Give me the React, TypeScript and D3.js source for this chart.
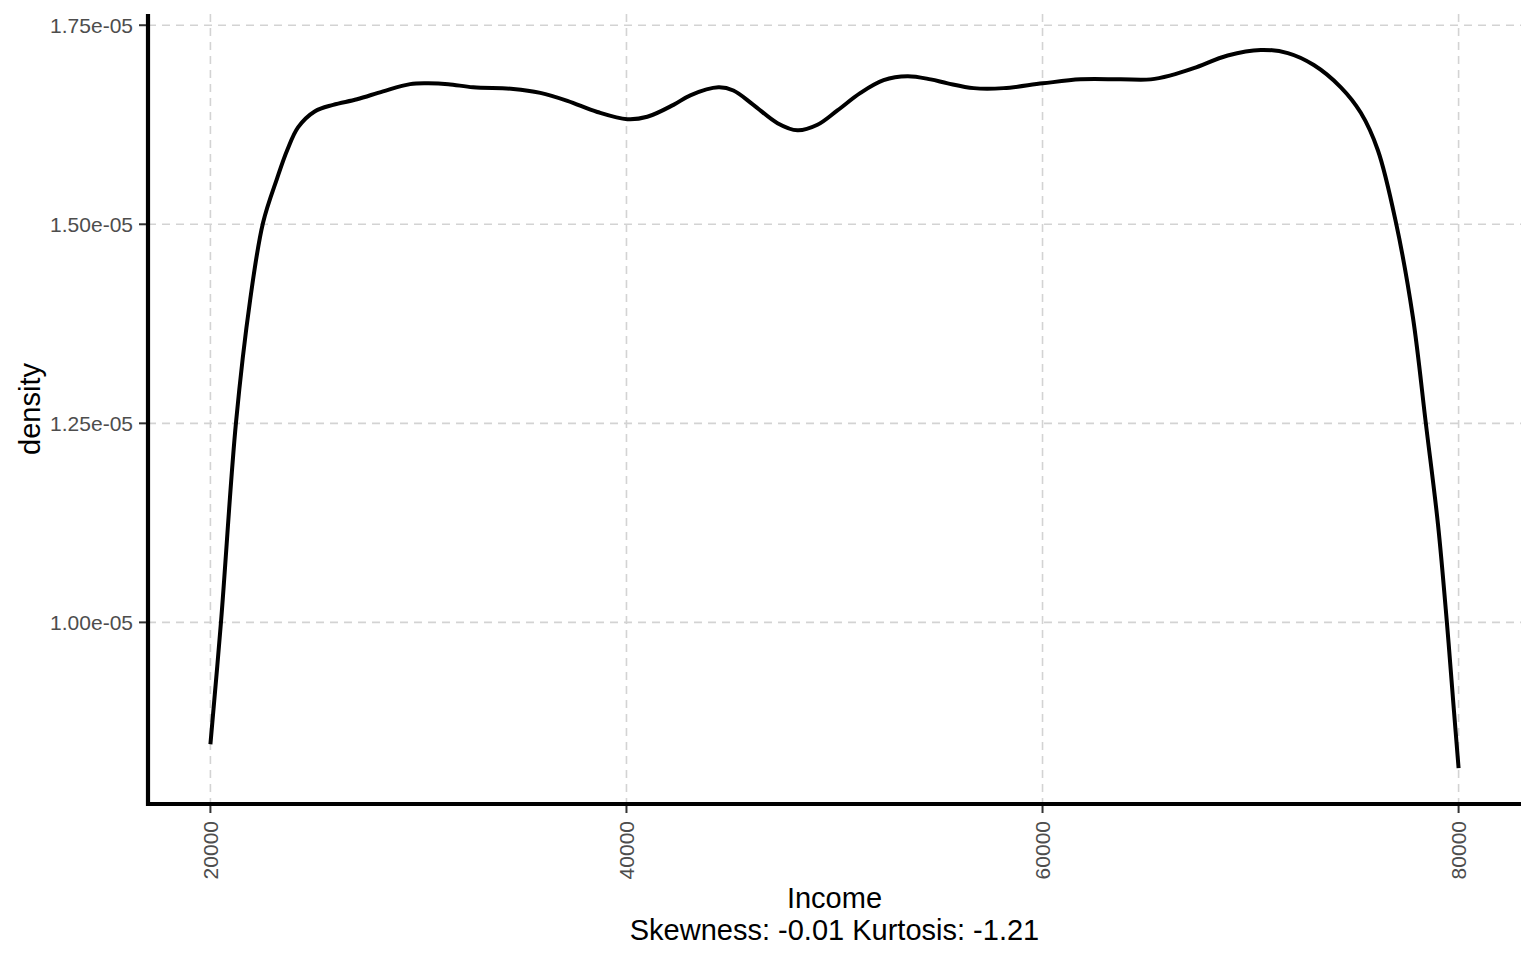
import React from 'react';
import * as d3 from 'd3';

// income (x) and kernel density (in units of 1e-05)
const income = [
  20000, 20510, 21230, 21910, 22530, 23210, 23690, 24220, 25030, 25900,
  27050, 28300, 29600, 30420, 31430, 32630, 34560, 35860, 37160, 38600,
  40040, 41000, 42260, 43070, 44420, 45140, 46100, 47260, 48220, 49180,
  50140, 51250, 52360, 53510, 54620, 55440, 56690, 58130, 60010, 61830,
  63760, 65200, 66160, 67270, 68900, 70490, 71790, 73040, 74340, 75300,
  76120, 76990, 77800, 78430, 79010, 79440, 79780, 80000,
];
const densityE5 = [
  0.847, 1.001, 1.251, 1.405, 1.502, 1.558, 1.593, 1.622, 1.642, 1.650,
  1.657, 1.667, 1.676, 1.677, 1.676, 1.672, 1.670, 1.665, 1.655, 1.641,
  1.632, 1.635, 1.650, 1.662, 1.672, 1.668, 1.650, 1.627, 1.618, 1.625,
  1.643, 1.665, 1.681, 1.686, 1.682, 1.677, 1.671, 1.671, 1.677, 1.682,
  1.682, 1.682, 1.687, 1.696, 1.712, 1.719, 1.715, 1.700, 1.672, 1.640,
  1.593, 1.502, 1.384, 1.249, 1.123, 0.999, 0.888, 0.817,
];

const xTicks = [20000, 40000, 60000, 80000];
const yTicks = [1.0, 1.25, 1.5, 1.75];

const xTitle = 'Income';
const xSubtitle = 'Skewness: -0.01 Kurtosis: -1.21';
const yTitle = 'density';

const W = 1536;
const H = 960;
const panel = { left: 148, right: 1521, top: 14, bottom: 804 };
const FONT = "Arial, 'Liberation Sans', sans-serif";

// ggplot-style 5% expansion
const expand = (lo: number, hi: number): [number, number] => {
  const r = hi - lo;
  return [lo - r * 0.05, hi + r * 0.05];
};

export default function App() {
  const points = income.map((x, i) => ({ x, y: densityE5[i] }));

  const xScale = d3
    .scaleLinear()
    .domain(expand(d3.min(income)!, d3.max(income)!))
    .range([panel.left, panel.right]);

  const yScale = d3
    .scaleLinear()
    .domain(expand(d3.min(densityE5)!, d3.max(densityE5)!))
    .range([panel.bottom, panel.top]);

  const line = d3
    .line<{ x: number; y: number }>()
    .x((d) => xScale(d.x))
    .y((d) => yScale(d.y))
    .curve(d3.curveCatmullRom.alpha(0.5));

  const midX = (panel.left + panel.right) / 2;
  const midY = (panel.top + panel.bottom) / 2;

  return (
    <svg
      width={W}
      height={H}
      viewBox={`0 0 ${W} ${H}`}
      style={{ position: 'absolute', left: 0, top: 0, background: '#fff' }}
      fontFamily={FONT}
    >
      {/* grid */}
      <g stroke="#d3d3d3" strokeWidth={1.6} strokeDasharray="8,6" fill="none">
        {yTicks.map((t) => (
          <line key={`gy${t}`} x1={panel.left} x2={panel.right} y1={yScale(t)} y2={yScale(t)} />
        ))}
        {xTicks.map((t) => (
          <line key={`gx${t}`} x1={xScale(t)} x2={xScale(t)} y1={panel.top} y2={panel.bottom} />
        ))}
      </g>

      {/* density curve */}
      <path d={line(points) ?? ''} fill="none" stroke="#000" strokeWidth={4} strokeLinejoin="round" />

      {/* axis lines */}
      <line x1={panel.left} x2={panel.left} y1={panel.top} y2={panel.bottom + 2} stroke="#000" strokeWidth={4.2} />
      <line x1={panel.left - 2} x2={panel.right} y1={panel.bottom} y2={panel.bottom} stroke="#000" strokeWidth={4.2} />

      {/* y ticks */}
      {yTicks.map((t) => (
        <g key={`yt${t}`}>
          <line x1={panel.left - 9} x2={panel.left - 2} y1={yScale(t)} y2={yScale(t)} stroke="#333" strokeWidth={2} />
          <text
            x={133}
            y={yScale(t)}
            textAnchor="end"
            dominantBaseline="central"
            fontSize={21}
            fill="#4d4d4d"
          >
            {`${t.toFixed(2)}e-05`}
          </text>
        </g>
      ))}

      {/* x ticks */}
      {xTicks.map((t) => (
        <g key={`xt${t}`}>
          <line x1={xScale(t)} x2={xScale(t)} y1={panel.bottom + 2} y2={panel.bottom + 9} stroke="#333" strokeWidth={2} />
          <text
            transform={`translate(${xScale(t)},${821}) rotate(-90)`}
            textAnchor="end"
            dominantBaseline="central"
            fontSize={21}
            fill="#4d4d4d"
          >
            {t}
          </text>
        </g>
      ))}

      {/* titles */}
      <text x={midX} y={908} textAnchor="middle" fontSize={29} fill="#000">
        {xTitle}
      </text>
      <text x={midX} y={940} textAnchor="middle" fontSize={29} fill="#000">
        {xSubtitle}
      </text>
      <text transform={`translate(40,${midY}) rotate(-90)`} textAnchor="middle" fontSize={29} fill="#000">
        {yTitle}
      </text>
    </svg>
  );
}
